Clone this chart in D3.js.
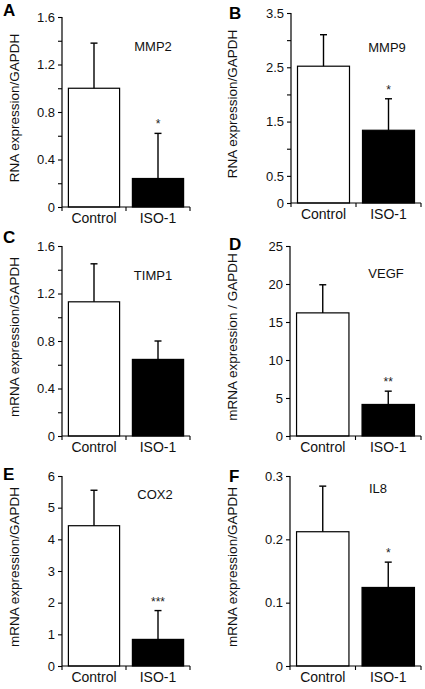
<!DOCTYPE html>
<html><head><meta charset="utf-8">
<script src="https://cdn.jsdelivr.net/npm/d3@7"></script>
<style>
html,body{margin:0;padding:0;background:#fff;}
svg{display:block;font-family:"Liberation Sans",Arial,sans-serif;}
</style></head>
<body>
<svg id="chart" width="425" height="689"></svg>
<script>
const categories = ["Control", "ISO-1"];
const panelLetters = ["A", "B", "C", "D", "E", "F"];
const genes = ["MMP2", "MMP9", "TIMP1", "VEGF", "COX2", "IL8"];
const yTitles = ["RNA expression/GAPDH", "RNA expression/GAPDH", "mRNA expression/GAPDH",
                 "mRNA expression / GAPDH", "mRNA expression/GAPDH", "mRNA expression/GAPDH"];
const yMax = [1.6, 3.5, 1.6, 25, 6, 0.3];
const tickValues = [
  [0, 0.2, 0.4, 0.6, 0.8, 1.0, 1.2, 1.4, 1.6],
  [0, 0.5, 1.0, 1.5, 2.0, 2.5, 3.0, 3.5],
  [0, 0.2, 0.4, 0.6, 0.8, 1.0, 1.2, 1.4, 1.6],
  [0, 5, 10, 15, 20, 25],
  [0, 1, 2, 3, 4, 5, 6],
  [0, 0.1, 0.2, 0.3]
];
const tickLabels = [
  ["0", "", "0.4", "", "0.8", "", "1.2", "", "1.6"],
  ["0", "0.5", "", "1.5", "", "2.5", "", "3.5"],
  ["0", "", "0.4", "", "0.8", "", "1.2", "", "1.6"],
  ["0", "5", "10", "15", "20", "25"],
  ["0", "1", "2", "3", "4", "5", "6"],
  ["0", "0.1", "0.2", "0.3"]
];
const controlMean = [1.00, 2.52, 1.13, 16.2, 4.43, 0.212];
const controlErr  = [0.38, 0.58, 0.32, 3.7, 1.12, 0.072];
const isoMean     = [0.24, 1.34, 0.645, 4.15, 0.84, 0.124];
const isoErr      = [0.38, 0.58, 0.155, 1.75, 0.91, 0.040];
const significance = ["*", "*", "", "**", "***", "*"];

// layout per panel
const layout = [
  {x0: 62,  x1: 190, yTop: 17,  yBot: 207, lx: 3,   ly: 16,  gx: 153, gy: 51,  tx: 14},
  {x0: 291, x1: 421, yTop: 13,  yBot: 203, lx: 229, ly: 19,  gx: 387, gy: 52,  tx: 232},
  {x0: 62,  x1: 190, yTop: 246, yBot: 436, lx: 3,   ly: 243, gx: 153, gy: 280, tx: 14},
  {x0: 290, x1: 421, yTop: 246, yBot: 436, lx: 229, ly: 250, gx: 386, gy: 278, tx: 232},
  {x0: 62,  x1: 190, yTop: 476, yBot: 666, lx: 3,   ly: 480, gx: 155, gy: 499, tx: 14},
  {x0: 290, x1: 421, yTop: 476, yBot: 666, lx: 229, ly: 482, gx: 378, gy: 493, tx: 232}
];

const svg = d3.select("#chart");

layout.forEach((L, i) => {
  const g = svg.append("g");
  const x = d3.scaleBand().domain(categories).range([L.x0, L.x1]).paddingInner(0.2).paddingOuter(0.1);
  const y = d3.scaleLinear().domain([0, yMax[i]]).range([L.yBot, L.yTop]);

  const rows = categories.map((c, j) => ({
    cat: c,
    mean: j === 0 ? controlMean[i] : isoMean[i],
    err: j === 0 ? controlErr[i] : isoErr[i]
  }));

  // bars
  g.selectAll("rect.bar").data(rows).join("rect")
    .attr("x", d => x(d.cat))
    .attr("width", x.bandwidth())
    .attr("y", d => y(d.mean))
    .attr("height", d => y(0) - y(d.mean))
    .attr("fill", (d, j) => j === 0 ? "#fff" : "#000")
    .attr("stroke", "#000").attr("stroke-width", 1.2);

  // error bars (upper only)
  const cx = d => x(d.cat) + x.bandwidth() / 2;
  g.selectAll("line.err").data(rows).join("line")
    .attr("x1", cx).attr("x2", cx)
    .attr("y1", d => y(d.mean)).attr("y2", d => y(d.mean + d.err))
    .attr("stroke", "#000").attr("stroke-width", 1.4);
  g.selectAll("line.cap").data(rows).join("line")
    .attr("x1", d => cx(d) - 3.5).attr("x2", d => cx(d) + 3.5)
    .attr("y1", d => y(d.mean + d.err)).attr("y2", d => y(d.mean + d.err))
    .attr("stroke", "#000").attr("stroke-width", 1.4);

  // significance
  if (significance[i]) {
    g.append("text")
      .attr("x", cx(rows[1])).attr("y", y(rows[1].mean + rows[1].err) - 5)
      .attr("text-anchor", "middle").attr("font-size", 12).attr("fill", "#222")
      .text(significance[i]);
  }

  // y axis
  const yAxis = d3.axisLeft(y).tickValues(tickValues[i]).tickSize(4).tickPadding(3)
    .tickFormat((d, k) => tickLabels[i][k]);
  const ya = g.append("g").attr("transform", `translate(${L.x0},0)`).call(yAxis);
  ya.select(".domain").attr("d", `M0,${L.yTop}V${L.yBot}`).attr("stroke", "#000").attr("stroke-width", 1.2);
  ya.selectAll(".tick line").attr("stroke", "#000").attr("stroke-width", 1.1);
  ya.selectAll(".tick text").attr("font-size", 13).attr("fill", "#111").attr("font-family", "Liberation Sans, Arial, sans-serif");

  // x axis
  const xa = g.append("g").attr("transform", `translate(0,${L.yBot})`);
  xa.append("line").attr("x1", L.x0).attr("x2", L.x1).attr("y1", 0).attr("y2", 0)
    .attr("stroke", "#000").attr("stroke-width", 1.2);
  const boundaries = [L.x0, x(categories[1]) - x.step() * x.paddingInner() / 2, L.x1];
  xa.selectAll("line.xt").data(boundaries).join("line")
    .attr("x1", d => d).attr("x2", d => d).attr("y1", 0).attr("y2", 4)
    .attr("stroke", "#000").attr("stroke-width", 1.1);
  xa.selectAll("text.cat").data(categories).join("text")
    .attr("x", d => x(d) + x.bandwidth() / 2).attr("y", 16)
    .attr("text-anchor", "middle").attr("font-size", 14).attr("fill", "#111")
    .text(d => d);

  // y title
  g.append("text")
    .attr("transform", `translate(${L.tx},${(L.yTop + L.yBot) / 2 - 4}) rotate(-90)`)
    .attr("text-anchor", "middle").attr("dominant-baseline", "central")
    .attr("font-size", 13.5).attr("fill", "#111")
    .text(yTitles[i]);

  // gene label
  g.append("text").attr("x", L.gx).attr("y", L.gy).attr("text-anchor", "middle")
    .attr("font-size", 13).attr("fill", "#111").text(genes[i]);

  // panel letter
  g.append("text").attr("x", L.lx).attr("y", L.ly)
    .attr("font-size", 17).attr("font-weight", "bold").attr("fill", "#000").text(panelLetters[i]);
});
</script>
</body></html>
